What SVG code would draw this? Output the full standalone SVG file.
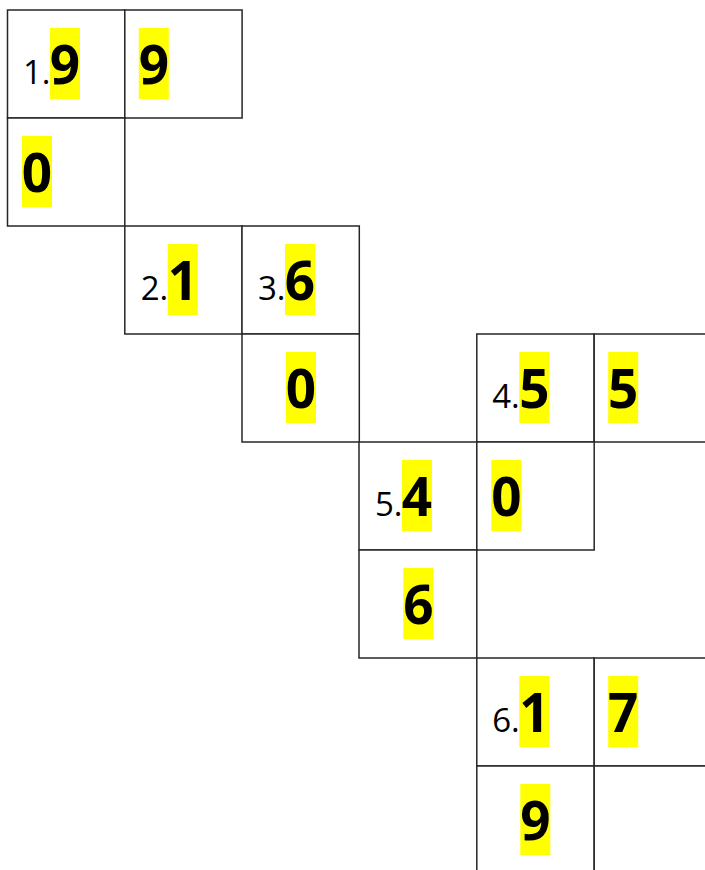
<svg xmlns="http://www.w3.org/2000/svg" width="705" height="870" viewBox="0 0 705 870">
<style>
.cell{fill:#fff;stroke:#262626;stroke-width:1.5}
.hl{fill:#ffff00}
.lbl{font-family:"Open Sans","Liberation Sans",sans-serif;font-size:33px;fill:#000;text-anchor:end}
.dig{font-family:"Open Sans","Liberation Sans",sans-serif;font-size:53px;font-weight:bold;fill:#000;text-anchor:middle}
</style>
<rect width="705" height="870" fill="#fff"/>
<g id="c1" transform="translate(7.5,10)"><rect class="cell" width="117.3" height="108"/><rect class="hl" x="42.5" y="18" width="30" height="71"/><text class="lbl" x="43" y="73.5">1.</text><text class="dig" x="57.5" y="73.5">9</text></g>
<g id="c2" transform="translate(124.8,10)"><rect class="cell" width="117.3" height="108"/><rect class="hl" x="14" y="18" width="30" height="71"/><text class="dig" x="29" y="73.5">9</text></g>
<g id="c3" transform="translate(7.5,118)"><rect class="cell" width="117.3" height="108"/><rect class="hl" x="14.5" y="18" width="30" height="71"/><text class="dig" x="29.5" y="73.5">0</text></g>
<g id="c4" transform="translate(124.8,226)"><rect class="cell" width="117.3" height="108"/><rect class="hl" x="43" y="18" width="30" height="71"/><text class="lbl" x="43.5" y="73.5">2.</text><text class="dig" x="58" y="73.5">1</text></g>
<g id="c5" transform="translate(242,226)"><rect class="cell" width="117.3" height="108"/><rect class="hl" x="43" y="18" width="30" height="71"/><text class="lbl" x="43.5" y="73.5">3.</text><text class="dig" x="58" y="73.5">6</text></g>
<g id="c6" transform="translate(242,334)"><rect class="cell" width="117.3" height="108"/><rect class="hl" x="44" y="18" width="30" height="71"/><text class="dig" x="59" y="73.5">0</text></g>
<g id="c7" transform="translate(476.8,334)"><rect class="cell" width="117.3" height="108"/><rect class="hl" x="42.5" y="18" width="30" height="71"/><text class="lbl" x="43" y="73.5">4.</text><text class="dig" x="57.5" y="73.5">5</text></g>
<g id="c8" transform="translate(594.2,334)"><rect class="cell" width="117.3" height="108"/><rect class="hl" x="14" y="18" width="30" height="71"/><text class="dig" x="29" y="73.5">5</text></g>
<g id="c9" transform="translate(359,442)"><rect class="cell" width="117.8" height="108"/><rect class="hl" x="43" y="18" width="30" height="71"/><text class="lbl" x="43.5" y="73.5">5.</text><text class="dig" x="58" y="73.5">4</text></g>
<g id="c10" transform="translate(476.8,442)"><rect class="cell" width="117.4" height="108"/><rect class="hl" x="14.5" y="18" width="30" height="71"/><text class="dig" x="29.5" y="73.5">0</text></g>
<g id="c11" transform="translate(359,550)"><rect class="cell" width="117.8" height="108"/><rect class="hl" x="44.3" y="18" width="30" height="71"/><text class="dig" x="59.3" y="73.5">6</text></g>
<g id="c12" transform="translate(476.8,658)"><rect class="cell" width="117.4" height="108"/><rect class="hl" x="42.5" y="18" width="30" height="71"/><text class="lbl" x="43" y="73.5">6.</text><text class="dig" x="57.5" y="73.5">1</text></g>
<g id="c13" transform="translate(594.2,658)"><rect class="cell" width="117.3" height="108"/><rect class="hl" x="14" y="18" width="30" height="71"/><text class="dig" x="29" y="73.5">7</text></g>
<g id="c14" transform="translate(476.8,766)"><rect class="cell" width="117.4" height="108"/><rect class="hl" x="43.5" y="18" width="30" height="71"/><text class="dig" x="58.5" y="73.5">9</text></g>
<g id="c15" transform="translate(594.2,766)"><rect class="cell" width="117.3" height="108"/></g>
<g id="connectors"></g>
</svg>
